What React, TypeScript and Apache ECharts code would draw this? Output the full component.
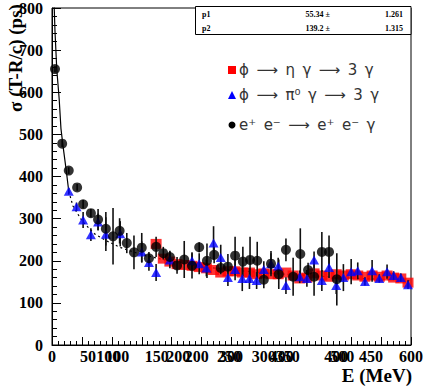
import React, { useEffect, useRef } from "react";
import * as echarts from "echarts";

// ---- data ----
const blackE = [5, 17, 28, 42, 52, 65, 77, 90, 102, 113, 125, 137, 150, 162, 174, 186, 197, 209, 221, 234, 246, 259, 271, 282, 294, 306, 319, 331, 343, 354, 366, 379, 391, 403, 415, 428, 438, 451, 463, 476];
const blackS = [655, 478, 414, 374, 334, 313, 298, 276, 258, 271, 242, 220, 231, 206, 233, 218, 209, 189, 203, 188, 232, 200, 214, 183, 186, 212, 198, 202, 200, 155, 193, 168, 226, 162, 216, 178, 162, 221, 221, 156];
const blackErr = [8, 8, 8, 8, 10, 10, 25, 40, 67, 30, 24, 40, 35, 15, 24, 15, 15, 20, 44, 30, 12, 41, 20, 15, 30, 45, 35, 55, 45, 20, 25, 35, 27, 45, 61, 17, 45, 47, 39, 62];

const blueE = [28, 41, 52, 65, 77, 90, 114, 150, 162, 174, 197, 234, 246, 258, 270, 282, 294, 306, 318, 330, 342, 354, 366, 378, 391, 414, 426, 438, 451, 463, 475, 487, 500, 511, 523, 535, 547, 560, 571, 583, 595];
const blueS = [365, 328, 297, 262, 292, 263, 264, 221, 196, 172, 202, 200, 193, 183, 242, 208, 160, 179, 158, 158, 153, 179, 193, 187, 141, 162, 158, 202, 153, 184, 141, 160, 174, 176, 151, 176, 158, 174, 165, 160, 143];
const blueErr = [8, 10, 19, 15, 20, 40, 30, 25, 20, 20, 20, 20, 25, 20, 40, 30, 20, 25, 30, 25, 20, 20, 30, 20, 20, 15, 20, 20, 25, 25, 20, 32, 30, 20, 10, 26, 10, 17, 10, 10, 10];

const redE = [174, 186, 197, 209, 221, 234, 246, 258, 270, 282, 294, 306, 318, 330, 342, 354, 366, 378, 391, 403, 414, 426, 438, 451, 463, 475, 487, 500, 511, 523, 535, 547, 560, 571, 583, 595];
const redS = [240, 205, 198, 192, 190, 188, 185, 182, 178, 172, 175, 175, 172, 172, 168, 170, 168, 168, 172, 165, 158, 160, 170, 165, 162, 168, 165, 168, 165, 162, 165, 162, 165, 160, 158, 148];

const fitSolidE = [3.5, 5, 8, 12, 15, 19, 24, 28];
const fitSolidS = [810, 745, 654, 584, 513, 466, 412, 365];
const fitDotE = [28, 35, 50, 70, 90, 115, 140, 170, 200, 250, 300, 350, 400, 450, 500, 550, 600];
const fitDotS = [365, 330, 295, 265, 248, 231, 219, 208, 198, 186, 178, 172, 167, 163, 159, 156, 153];

const xLabelValues = [0, 60, 94, 109, 175, 211, 242, 296, 299, 354, 384, 394, 475, 485, 533, 600];
const xLabelTexts = ["0", "50", "100", "100", "150", "200", "200", "250", "300", "300", "400", "350", "400", "500", "450", "600"];

const statNames = ["p1", "p2"];
const statValues = ["55.34 \u00b1", "139.2 \u00b1"];
const statErrors = ["1.261", "1.315"];

const legendTexts = [
  "\u03d5\u2002\u27f6\u2002\u03b7\u2002\u03b3\u2002\u27f6\u20023\u2002\u03b3",
  "\u03d5\u2002\u27f6\u2002\u03c0\u2070\u2002\u03b3\u2002\u27f6\u20023\u2002\u03b3",
  "e\u207a\u2002e\u207b\u2002\u27f6\u2002e\u207a\u2002e\u207b\u2002\u03b3",
];

const SERIF = "'Liberation Serif', 'DejaVu Serif', serif";
const SANS = "'DejaVu Sans', sans-serif";

function zip(xs: number[], ys: number[]) {
  return xs.map((x, i) => [x, ys[i]]);
}
function zip3(xs: number[], ys: number[], es: number[]) {
  return xs.map((x, i) => [x, ys[i], es[i]]);
}

function errorBarSeries(data: number[][]) {
  return {
    type: "custom",
    clip: true,
    data,
    encode: { x: 0, y: 1 },
    renderItem: (params: any, api: any) => {
      const x = api.value(0);
      const y = api.value(1);
      const e = api.value(2);
      const p1 = api.coord([x, y - e]);
      const p2 = api.coord([x, y + e]);
      return {
        type: "line",
        shape: { x1: p1[0], y1: p1[1], x2: p2[0], y2: p2[1] },
        style: { stroke: "#111", lineWidth: 1.6 },
      };
    },
    z: 3,
  };
}

export default function App() {
  const ref = useRef<HTMLDivElement>(null);
  useEffect(() => {
    if (!ref.current) return;
    const chart = echarts.init(ref.current, undefined, { renderer: "svg" });
    const labelMap = new Map<number, string>();
    xLabelValues.forEach((v, i) => labelMap.set(v, xLabelTexts[i]));

    const graphic: any[] = [];
    graphic.push({
      type: "text",
      x: 15,
      y: 58,
      rotation: Math.PI / 2,
      style: {
        text: "\u03c3 (T-R/c) (ps)",
        font: `bold 19px ${SERIF}`,
        fill: "#000",
        align: "center",
        verticalAlign: "middle",
      },
    });
    graphic.push({
      type: "text",
      x: 412,
      y: 375,
      style: {
        text: "E (MeV)",
        font: `bold 19px ${SERIF}`,
        fill: "#000",
        align: "right",
        verticalAlign: "middle",
      },
    });
    graphic.push({
      type: "rect",
      shape: { x: 195.5, y: 6.5, width: 215.5, height: 28 },
      style: { fill: "#fff", stroke: "#000", lineWidth: 1 },
      z: 10,
    });
    statNames.forEach((n, i) => {
      const y = 14 + i * 14;
      graphic.push({
        type: "text", x: 202, y, z: 11,
        style: { text: n, font: `bold 8px ${SERIF}`, fill: "#000", align: "left", verticalAlign: "middle" },
      });
      graphic.push({
        type: "text", x: 330, y, z: 11,
        style: { text: statValues[i], font: `bold 8px ${SERIF}`, fill: "#000", align: "right", verticalAlign: "middle" },
      });
      graphic.push({
        type: "text", x: 403, y, z: 11,
        style: { text: statErrors[i], font: `bold 8px ${SERIF}`, fill: "#000", align: "right", verticalAlign: "middle" },
      });
    });
    const rowY = [70, 95, 125];
    graphic.push({ type: "rect", shape: { x: 228, y: rowY[0] - 4, width: 8, height: 8 }, style: { fill: "#ff0000" }, z: 10 });
    graphic.push({
      type: "polygon",
      shape: { points: [[232, rowY[1] - 4], [236, rowY[1] + 4], [228, rowY[1] + 4]] },
      style: { fill: "#0000ff" }, z: 10,
    });
    graphic.push({ type: "circle", shape: { cx: 232, cy: rowY[2], r: 3.5 }, style: { fill: "#000" }, z: 10 });
    legendTexts.forEach((t, i) => {
      graphic.push({
        type: "text", x: 239, y: rowY[i], z: 10,
        style: { text: t, font: `15px ${SANS}`, fill: "#333", align: "left", verticalAlign: "middle" },
      });
    });

    chart.setOption({
      animation: false,
      backgroundColor: "#fff",
      grid: { left: 52, right: 16, top: 6, bottom: 42, show: true, borderColor: "#000", borderWidth: 1, backgroundColor: "transparent" },
      xAxis: {
        type: "value",
        min: 0,
        max: 600,
        interval: 50,
        axisLine: { show: true, onZero: false, lineStyle: { color: "#000", width: 1 } },
        axisTick: { show: true, inside: true, length: 8, lineStyle: { color: "#000" } },
        minorTick: { show: true, splitNumber: 5, length: 4, lineStyle: { color: "#000" } },
        splitLine: { show: false },
        axisLabel: {
          customValues: xLabelValues,
          formatter: (v: number) => labelMap.get(v) ?? "",
          color: "#000",
          fontFamily: SERIF,
          fontWeight: "bold",
          fontSize: 16,
          margin: 3,
        },
      },
      yAxis: {
        type: "value",
        min: 0,
        max: 800,
        interval: 100,
        axisLine: { show: true, onZero: false, lineStyle: { color: "#000", width: 1 } },
        axisTick: { show: true, inside: true, length: 9, lineStyle: { color: "#000" } },
        minorTick: { show: true, splitNumber: 5, length: 5, lineStyle: { color: "#000" } },
        splitLine: { show: false },
        axisLabel: {
          color: "#000",
          fontFamily: SERIF,
          fontWeight: "bold",
          fontSize: 16,
          margin: 9,
        },
      },
      series: [
        {
          type: "line",
          data: zip(fitSolidE, fitSolidS),
          symbol: "none",
          lineStyle: { color: "#000", width: 1.2 },
          clip: true,
          z: 2,
        },
        {
          type: "line",
          data: zip(fitDotE, fitDotS),
          symbol: "none",
          lineStyle: { color: "#000", width: 1.2, type: [2, 3] },
          clip: true,
          z: 2,
        },
        {
          type: "scatter",
          data: zip(redE, redS),
          symbol: "rect",
          symbolSize: [11, 10],
          itemStyle: { color: "#ff0000" },
          z: 2,
        },
        errorBarSeries(zip3(blueE, blueS, blueErr)),
        errorBarSeries(zip3(blackE, blackS, blackErr)),
        {
          type: "scatter",
          data: zip(blueE, blueS),
          symbol: "triangle",
          symbolSize: [10, 9],
          itemStyle: { color: "#0000ff" },
          z: 4,
        },
        {
          type: "scatter",
          data: zip(blackE, blackS),
          symbol: "circle",
          symbolSize: 10,
          itemStyle: { color: "#000" },
          z: 5,
        },
      ],
      graphic,
    });
    return () => chart.dispose();
  }, []);
  return (
    <div
      ref={ref}
      style={{ position: "fixed", left: 0, top: 0, width: 427, height: 387, background: "#fff" }}
    />
  );
}
